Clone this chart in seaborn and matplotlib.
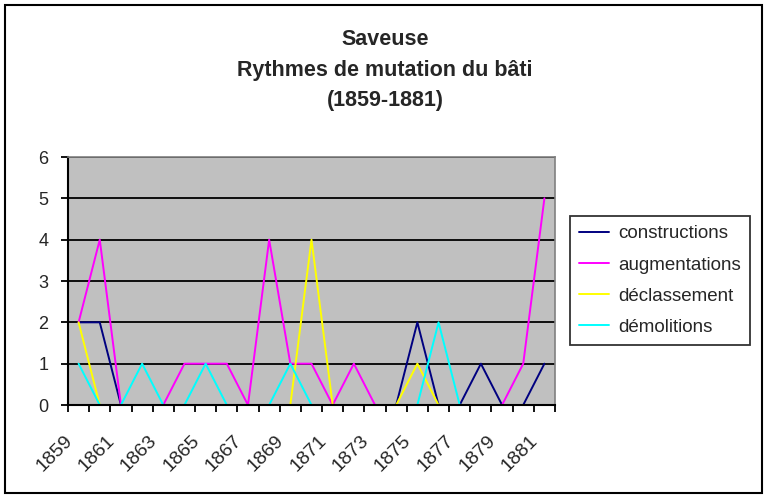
import numpy as np
import pandas as pd
import matplotlib
matplotlib.use("Agg")
import matplotlib.pyplot as plt
import seaborn as sns
from matplotlib.patches import Rectangle
from matplotlib.ticker import MultipleLocator, FixedLocator
from matplotlib.transforms import ScaledTranslation

years = list(range(1859, 1882))
constructions = [2, 2, 0, 0, 0, 0, 0, 0, 0, 0, 0, 0, 0, 0, 0, 0, 2, 0, 0, 1, 0, 0, 1]
augmentations = [2, 4, 0, 0, 0, 1, 1, 1, 0, 4, 1, 1, 0, 1, 0, 0, 0, 0, 0, 0, 0, 1, 5]
declassement = [2, 0, 0, 0, 0, 0, 0, 0, 0, 0, 0, 4, 0, 0, 0, 0, 1, 0, 0, 0, 0, 0, 0]
demolitions = [1, 0, 0, 1, 0, 0, 1, 0, 0, 0, 1, 0, 0, 0, 0, 0, 0, 2, 0, 0, 0, 0, 0]

series_names = ["constructions", "augmentations", "déclassement", "démolitions"]
series_colors = ["#000080", "#FF00FF", "#FFFF00", "#00FFFF"]
title_lines = ["Saveuse", "Rythmes de mutation du bâti", "(1859-1881)"]

df = pd.DataFrame({
    "annee": years * 4,
    "valeur": constructions + augmentations + declassement + demolitions,
    "serie": [n for n in series_names for _ in years],
})

sns.set_style("white")
plt.rcParams["font.family"] = ["Liberation Sans", "DejaVu Sans"]

fig = plt.figure(figsize=(7.68, 5.0), dpi=100)
ax = fig.add_axes([68 / 768, 95 / 500, 487 / 768, 248 / 500])
ax.set_facecolor("#C0C0C0")

sns.lineplot(data=df, x="annee", y="valeur", hue="serie", hue_order=series_names,
             palette=series_colors, linewidth=1.4, ax=ax, legend=True)

ax.set_xlim(1858.5, 1881.5)
ax.set_ylim(0, 6)
ax.set_xlabel("")
ax.set_ylabel("")

# horizontal gridlines in black, like the Excel original
ax.yaxis.set_major_locator(MultipleLocator(1))
ax.grid(axis="y", color="black", linewidth=1.3)
ax.grid(axis="x", visible=False)
ax.set_axisbelow(True)

# x ticks: labels on odd years, tick marks between categories
ax.xaxis.set_major_locator(FixedLocator(years[::2]))
ax.xaxis.set_minor_locator(FixedLocator([y - 0.5 for y in years] + [years[-1] + 0.5]))
ax.set_xticklabels([str(y) for y in years[::2]], rotation=45, ha="right", va="center",
                   rotation_mode="anchor", fontsize=14)
ax.tick_params(axis="x", which="major", length=0, pad=24)
ax.tick_params(axis="x", which="minor", length=5, width=1.3, direction="out", color="black", bottom=True)
ax.tick_params(axis="y", which="major", length=5, width=1.3, direction="out", color="black",
               left=True, labelsize=13, pad=9)
shift = ScaledTranslation(-9 / 100, 0, fig.dpi_scale_trans)
for lab in ax.get_xticklabels():
    lab.set_transform(lab.get_transform() + shift)

for side in ["left", "bottom"]:
    ax.spines[side].set_color("black")
    ax.spines[side].set_linewidth(1.5)
for side in ["top", "right"]:
    ax.spines[side].set_color("#808080")
    ax.spines[side].set_linewidth(1.2)

# title, three centred lines
for line, ypix in zip(title_lines, [45, 76, 106]):
    fig.text(385 / 768, 1 - ypix / 500, line, ha="center", va="baseline",
             fontsize=15.5, fontweight="bold")

# legend box on the right
handles, labels = ax.get_legend_handles_labels()
ax.legend_.remove()
leg = fig.legend(handles, labels, loc="upper left", bbox_to_anchor=(570 / 768, 1 - 216 / 500),
                 frameon=True, fancybox=False, fontsize=13.5, handlelength=1.6,
                 handletextpad=0.45, labelspacing=0.75, borderpad=0.5, borderaxespad=0)
leg.get_frame().set_edgecolor("black")
leg.get_frame().set_linewidth(1.3)

# outer chart border
fig.patches.append(Rectangle((5 / 768, 7 / 500), 757 / 768, 488 / 500, transform=fig.transFigure,
                             fill=False, edgecolor="black", linewidth=1.5))

fig.savefig("out.png", dpi=100)
